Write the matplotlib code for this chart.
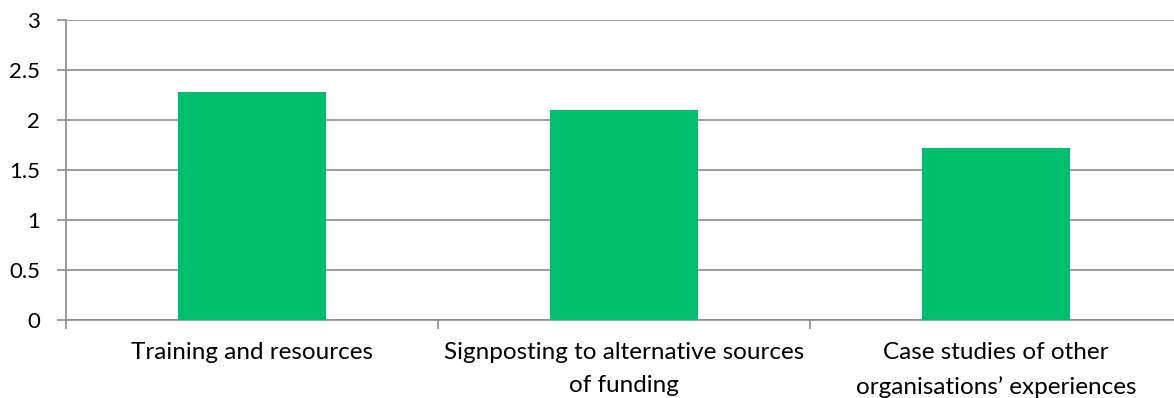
import matplotlib
matplotlib.use('Agg')
import matplotlib.pyplot as plt
import numpy as np

categories = ['Training and resources',
              'Signposting to alternative sources\nof funding',
              'Case studies of other\norganisations\u2019 experiences']
values = [2.28, 2.10, 1.72]
yticks = [0, 0.5, 1, 1.5, 2, 2.5, 3]
ylabels = ['0', '0.5', '1', '1.5', '2', '2.5', '3']

plt.rcParams['font.family'] = ['Lato', 'DejaVu Sans']

fig = plt.figure(figsize=(11.74, 3.98), dpi=100)
W, H = 1174, 398
# plot area in pixels: left 66, right ~1182 (runs past the edge), top 20, bottom 320
ax = fig.add_axes([66 / W, (H - 320) / H, 1116 / W, 300 / H])

x = np.arange(len(categories))
ax.bar(x, values, width=0.4, color='#00BF6F', zorder=3)

ax.set_xlim(-0.5, len(categories) - 0.5)
ax.set_ylim(0, 3)
ax.set_yticks(yticks)
ax.set_yticklabels(ylabels, fontsize=16)
ax.yaxis.grid(True, color='#8c8c8c', linewidth=1.2, zorder=0)

ax.set_xticks(x)
ax.set_xticklabels(categories, fontsize=17.5, linespacing=1.7)
ax.set_xticks(np.arange(len(categories) + 1) - 0.5, minor=True)
ax.tick_params(axis='x', which='major', length=0, pad=16)
ax.tick_params(axis='x', which='minor', length=6.5, color='#8c8c8c', width=1.2)
ax.tick_params(axis='y', length=6.5, color='#8c8c8c', width=1.2, direction='out', pad=12)

for s in ['top', 'right']:
    ax.spines[s].set_visible(False)
for s in ['left', 'bottom']:
    ax.spines[s].set_color('#8c8c8c')
    ax.spines[s].set_linewidth(1.2)

fig.savefig('out.png', dpi=100, facecolor='white')
